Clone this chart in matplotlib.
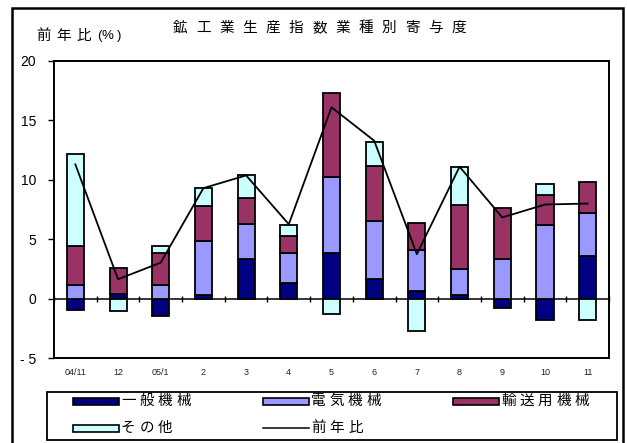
import numpy as np
import matplotlib
matplotlib.use('Agg')
import matplotlib.pyplot as plt
from matplotlib.patches import Rectangle
from matplotlib.lines import Line2D

W, H = 627, 443
JP = ['Noto Sans CJK JP', 'DejaVu Sans']

categories = ['04/11', '12', '05/1', '2', '3', '4', '5', '6', '7', '8', '9', '10', '11']
general = [-0.96, 0.35, -1.46, 0.28, 3.31, 1.32, 3.88, 1.69, 0.65, 0.34, -0.79, -1.77, 3.60]
electric = [1.12, 0.07, 1.12, 4.55, 2.95, 2.56, 6.32, 4.83, 3.42, 2.16, 3.31, 6.21, 3.59]
transport = [3.29, 2.19, 2.76, 2.98, 2.22, 1.37, 7.08, 4.68, 2.33, 5.37, 4.30, 2.47, 2.61]
other = [7.79, -1.04, 0.56, 1.52, 1.89, 0.96, -1.26, 1.97, -2.75, 3.20, 0.0, 0.98, -1.83]
yoy = [11.3, 1.63, 3.03, 9.3, 10.37, 6.26, 16.1, 13.29, 3.74, 11.1, 6.83, 7.92, 8.0]

series_names = ['一般機械', '電気機械', '輸送用機械', 'その他']
line_name = '前年比'
colors = ['#000080', '#9999FF', '#993366', '#CCFFFF']
title = '鉱工業生産指数業種別寄与度'


def px(x, y):
    # pixel position (from top left) -> figure fraction
    return x / W, 1 - y / H


def spaced_text(fig, x, y, s, pitch, **kw):
    # draw characters one by one with a fixed pitch (the reference is letter spaced)
    for i, ch in enumerate(s):
        fx, fy = px(x + i * pitch, y)
        fig.text(fx, fy, ch, ha='left', va='center', **kw)


fig = plt.figure(figsize=(W / 100, H / 100), dpi=100)
ax = fig.add_axes([54 / W, 1 - 358 / H, (609 - 54) / W, (358 - 61) / H])

x = np.arange(len(categories))
data = np.array([general, electric, transport, other])
pos_bottom = np.zeros(len(categories))
neg_bottom = np.zeros(len(categories))
for vals, c in zip(data, colors):
    pos = np.where(vals > 0, vals, 0)
    neg = np.where(vals < 0, vals, 0)
    mask = vals > 0
    ax.bar(x[mask], pos[mask], 0.4, bottom=pos_bottom[mask], color=c,
           edgecolor='black', linewidth=1.3, zorder=2)
    mask = vals < 0
    ax.bar(x[mask], neg[mask], 0.4, bottom=neg_bottom[mask], color=c,
           edgecolor='black', linewidth=1.3, zorder=2)
    pos_bottom += pos
    neg_bottom += neg

ax.plot(x, yoy, color='black', linewidth=1.3, zorder=3)

ax.set_xlim(-0.5, len(categories) - 0.5)
ax.set_ylim(-5, 20)
ax.set_yticks([-5, 0, 5, 10, 15, 20])
ax.set_yticklabels(['- 5', '0', '5', '10', '15', '20'], fontfamily='Liberation Sans', fontsize=10)
ax.set_xticks(x)
ax.set_xticklabels(categories, fontfamily='Liberation Sans', fontsize=6.5, color='#222222')
ax.tick_params(axis='x', length=0, pad=7)
ax.tick_params(axis='y', direction='out', length=4, width=1.0, pad=9)
for sp in ax.spines.values():
    sp.set_linewidth(1.4)

# category axis crossing at zero with ticks between categories
zero = ax.secondary_xaxis(0.2)
zero.set_xticks(np.arange(len(categories) + 1) - 0.5)
zero.set_xticklabels([])
zero.tick_params(direction='inout', length=5, width=1.0)
zero.spines['bottom'].set_linewidth(1.1)

# title and axis label
spaced_text(fig, 173, 28, title, 23.2, fontfamily=JP, fontsize=10.5)
spaced_text(fig, 36, 36, '前年比', 20, fontfamily=JP, fontsize=10.5)
fig.text(*px(97, 36), '(', ha='left', va='center', fontfamily='Liberation Sans', fontsize=9.5)
fig.text(*px(102, 36), '%', ha='left', va='center', fontfamily='Liberation Sans', fontsize=9.5)
fig.text(*px(117, 36), ')', ha='left', va='center', fontfamily='Liberation Sans', fontsize=9.5)

# outer frame and legend box
fig.add_artist(Rectangle(px(12, 446), 611 / W, 438 / H, transform=fig.transFigure,
                         fill=False, edgecolor='black', linewidth=1.8))
fig.add_artist(Rectangle(px(47, 440), 570 / W, 48 / H, transform=fig.transFigure,
                         fill=False, edgecolor='black', linewidth=1.3))

legend_slots = [(73, 401), (263, 401), (453, 401), (73, 428)]
for (lx, ly), name, c in zip(legend_slots, series_names, colors):
    fig.add_artist(Rectangle(px(lx, ly + 3.5), 46 / W, 7 / H, transform=fig.transFigure,
                             facecolor=c, edgecolor='black', linewidth=1.2))
    spaced_text(fig, lx + 48, ly, name, 18.5, fontfamily=JP, fontsize=10.5)
x0, y0 = px(263, 428)
x1, _ = px(309, 428)
fig.add_artist(Line2D([x0, x1], [y0, y0], transform=fig.transFigure, color='black', linewidth=1.1))
spaced_text(fig, 311, 428, line_name, 18.5, fontfamily=JP, fontsize=10.5)

fig.savefig('out.png', dpi=100)
